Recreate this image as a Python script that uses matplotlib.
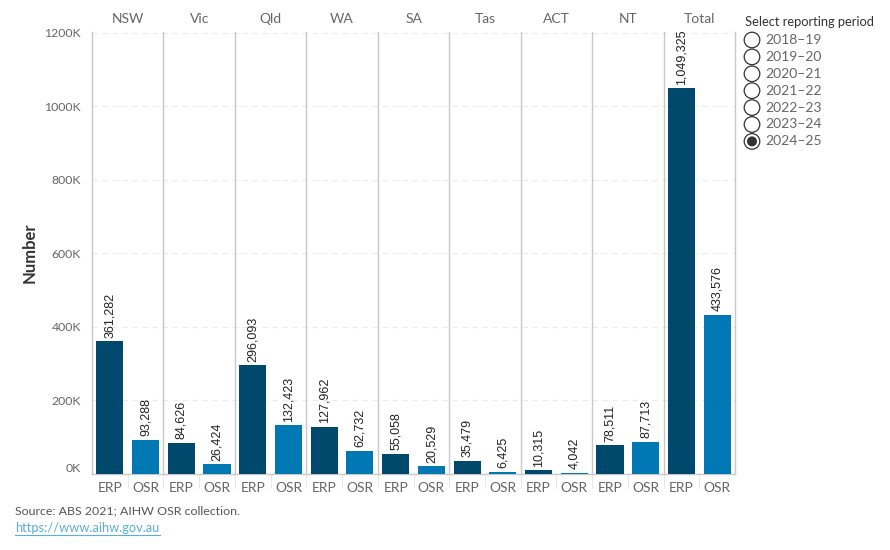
import matplotlib
matplotlib.use("Agg")
import matplotlib.pyplot as plt
from matplotlib.patches import Circle
from matplotlib.transforms import blended_transform_factory

# data (2024-25)
regions = ["NSW", "Vic", "Qld", "WA", "SA", "Tas", "ACT", "NT", "Total"]
measures = ["ERP", "OSR"]
erp_values = [361282, 84626, 296093, 127962, 55058, 35479, 10315, 78511, 1049325]
osr_values = [93288, 26424, 132423, 62732, 20529, 6425, 4042, 87713, 433576]
y_ticks = [0, 200000, 400000, 600000, 800000, 1000000, 1200000]
periods = ["2018\u201319", "2019\u201320", "2020\u201321", "2021\u201322",
           "2022\u201323", "2023\u201324", "2024\u201325"]
selected_period = "2024\u201325"

ERP_COLOR = "#00496c"
OSR_COLOR = "#0078b4"
TEXT_GREY = "#666666"
LINE_GREY = "#c8c8c8"

plt.rcParams["font.family"] = ["Lato", "DejaVu Sans"]

fig = plt.figure(figsize=(8.9, 5.5), dpi=100)
ax = fig.add_axes([92 / 890, 76 / 550, (735 - 92) / 890, (474 - 32) / 550])

n = len(regions)
xs, heights, colors, labels = [], [], [], []
for i in range(n):
    for j, (val, col) in enumerate(((erp_values[i], ERP_COLOR), (osr_values[i], OSR_COLOR))):
        xs.append(2 * i + j)
        heights.append(val)
        colors.append(col)
        labels.append(measures[j])

bars = ax.bar(xs, heights, width=0.76, color=colors, zorder=3)
for bar, val in zip(bars, heights):
    ax.annotate(f"{val:,}", (bar.get_x() + bar.get_width() / 2, val),
                textcoords="offset points", xytext=(0, 2.5), ha="center", va="bottom",
                rotation=90, fontsize=9, color="#222222",
                family=["Liberation Sans", "DejaVu Sans"], zorder=4)

ax.set_xlim(-0.5, 2 * n - 0.5)
ax.set_ylim(0, 1202000)
ax.set_yticks(y_ticks)
ax.set_yticklabels([f"{v // 1000}K" for v in y_ticks])
ax.get_yticklabels()[0].set_verticalalignment("bottom")
ax.set_xticks(xs)
ax.set_xticklabels(labels)
ax.set_xticks([x + 0.5 for x in xs[:-1]], minor=True)
ax.tick_params(axis="x", which="major", length=0, pad=6, labelsize=10, labelcolor=TEXT_GREY)
ax.tick_params(axis="x", which="minor", length=10, color="#e4e4e4")
ax.tick_params(axis="y", length=0, pad=8, labelsize=8.8, labelcolor=TEXT_GREY)
ax.grid(axis="y", color="#ebebeb", linestyle=(0, (5, 4)), linewidth=0.8, zorder=0)

ax.spines["top"].set_visible(False)
for side in ("left", "right", "bottom"):
    ax.spines[side].set_color(LINE_GREY)
    ax.spines[side].set_linewidth(1.0)
for i in range(1, n):
    ax.axvline(2 * i - 0.5, color=LINE_GREY, linewidth=1.0, zorder=2)

trans = blended_transform_factory(ax.transData, ax.transAxes)
for i, name in enumerate(regions):
    ax.text(2 * i + 0.5, 1.015, name, transform=trans, ha="center", va="bottom",
            fontsize=10, color=TEXT_GREY)

ax.set_ylabel("Number", fontsize=12, fontweight="bold", color="#333333", labelpad=5)

# overlay in pixel coordinates for legend and footer
over = fig.add_axes([0, 0, 1, 1], facecolor="none")
over.set_xlim(0, 890)
over.set_ylim(550, 0)
over.axis("off")

over.text(745, 22, "Select reporting period", fontsize=9.3, color="#333333", va="center")
for k, period in enumerate(periods):
    cy = 40 + k * 16.9
    over.add_patch(Circle((752, cy), 7.8, facecolor="white", edgecolor="#333333", linewidth=0.9))
    if period == selected_period:
        over.add_patch(Circle((752, cy), 5, facecolor="#333333", edgecolor="none"))
    over.text(765, cy, period, fontsize=10, color=TEXT_GREY, va="center")

over.text(15, 511, "Source: ABS 2021; AIHW OSR collection.", fontsize=8.9, color="#555555", va="center")
over.text(15, 528, "https://www.aihw.gov.au", fontsize=9.3, color="#5aaed8", va="center")
over.plot([15, 160], [535, 535], color="#5aaed8", linewidth=0.8)

fig.savefig("out.png", dpi=100)
